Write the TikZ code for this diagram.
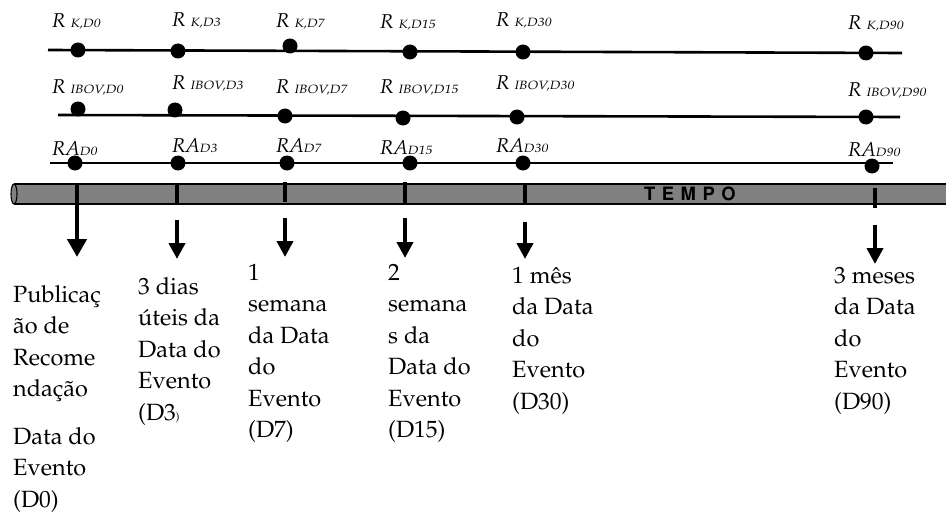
\documentclass[tikz,border=0pt]{standalone}
\usepackage[T1]{fontenc}
\usepackage{mathpazo}
\usepackage[scaled=0.92]{helvet}
\usepackage{graphicx}
\usetikzlibrary{arrows.meta}

% small, slightly widened italic tag set on the baseline after R / RA
\newcommand\lblsub[1]{\scalebox{1.15}[1]{\fontsize{12}{12}\selectfont\itshape #1}}

\begin{document}
\begin{tikzpicture}[x=1pt,y=-1pt,
  lbl/.style={anchor=base west, inner sep=0pt, font=\fontsize{20}{20}\selectfont\itshape},
  dot/.style={circle, fill=black, inner sep=0pt, minimum size=15pt},
  rail/.style={line width=2.6pt, black},
  tick/.style={line width=4pt, black},
  down/.style={line width=4.5pt, -{Triangle[width=16pt,length=16pt]}},
  bigdown/.style={line width=4.5pt, -{Triangle[width=19pt,length=18pt]}},
  desc/.style={anchor=north west, inner sep=0pt, align=left,
    font=\fontsize{23.5}{31.5}\selectfont},
  bargray/.style={fill=black!50}]
\useasboundingbox (0,0) rectangle (946,519);

% ---------- row 1: R K ----------
\coordinate (kA) at (48,50);
\coordinate (kB) at (902,53);
\draw[rail] (kA) -- (kB);
\node[dot] (dk0) at (78,50) {};
\node[dot] (dk3) at (178,51) {};
\node[dot] (dk7) at (290,46) {};
\node[dot] (dk15) at (410,52) {};
\node[dot] (dk30) at (523,52) {};
\node[dot] (dk90) at (866,53) {};
\node[lbl] (k0) at (52,28) {R\hspace{5pt}\lblsub{K,D0}};
\node[lbl] (k3) at (172,27) {R\hspace{5pt}\lblsub{K,D3}};
\node[lbl] (k7) at (276,28) {R\hspace{5pt}\lblsub{K,D7}};
\node[lbl] (k15) at (380,29) {R\hspace{5pt}\lblsub{K,D15}};
\node[lbl] (k30) at (496,27) {R\hspace{5pt}\lblsub{K,D30}};
\node[lbl] (k90) at (848,30) {R\hspace{5pt}\lblsub{K,D90}};

% ---------- row 2: R IBOV ----------
\coordinate (iA) at (58,115);
\coordinate (iB) at (900,117);
\draw[rail] (iA) -- (iB);
\node[dot] (di0) at (78,109) {};
\node[dot] (di3) at (175,110) {};
\node[dot] (di7) at (285,116) {};
\node[dot] (di15) at (403,118) {};
\node[dot] (di30) at (517,117) {};
\node[dot] (di90) at (866,117) {};
\node[lbl] (i0) at (52,93) {R\hspace{5pt}\lblsub{IBOV,D0}};
\node[lbl] (i3) at (172,90) {R\hspace{5pt}\lblsub{IBOV,D3}};
\node[lbl] (i7) at (276,93) {R\hspace{5pt}\lblsub{IBOV,D7}};
\node[lbl] (i15) at (380,93) {R\hspace{5pt}\lblsub{IBOV,D15}};
\node[lbl] (i30) at (496,90) {R\hspace{5pt}\lblsub{IBOV,D30}};
\node[lbl] (i90) at (848,97) {R\hspace{5pt}\lblsub{IBOV,D90}};

% ---------- row 3: RA ----------
\coordinate (aA) at (50,163);
\coordinate (aB) at (893,163);
\draw[rail] (aA) -- (aB);
\node[dot] (da0) at (75,163) {};
\node[dot] (da3) at (178,163) {};
\node[dot] (da7) at (287,163) {};
\node[dot] (da15) at (410,163) {};
\node[dot] (da30) at (523,163) {};
\node[dot] (da90) at (872,166) {};
\node[lbl] (a0) at (52,155) {RA\lblsub{D0}};
\node[lbl] (a3) at (172,152) {RA\lblsub{D3}};
\node[lbl] (a7) at (276,152) {RA\lblsub{D7}};
\node[lbl] (a15) at (380,154) {RA\lblsub{D15}};
\node[lbl] (a30) at (496,152) {RA\lblsub{D30}};
\node[lbl] (a90) at (848,157) {RA\lblsub{D90}};

% ---------- time bar ----------
\fill[bargray] (14,184) rectangle (946,204);
\draw[line width=1.3pt] (14,184) -- (946,184);
\draw[line width=1.3pt] (14,204) -- (946,204);
\filldraw[bargray, draw=black, line width=1.1pt] (14,194) ellipse [x radius=3, y radius=10];
\node[inner sep=0pt, anchor=base west, font=\sffamily\bfseries\fontsize{20}{20}\selectfont] (tempo) at (644,200.5)
  {T\hspace{6.5pt}E\hspace{6.5pt}M\hspace{6.5pt}P\hspace{6.5pt}O};

% ticks on the bar
\draw[tick] (177,184) -- (177,203);
\draw[tick] (285,182) -- (285,202);
\draw[tick] (405,182) -- (405,203);
\draw[tick] (525,184) -- (525,205);
\draw[tick] (875,188) -- (875,208);

% arrows down to the descriptions
\coordinate (s0) at (77,184);  \coordinate (e0) at (77,257);
\coordinate (s3) at (177,220); \coordinate (e3) at (177,259);
\coordinate (s7) at (285,218); \coordinate (e7) at (285,257);
\coordinate (s15) at (405,218); \coordinate (e15) at (405,258);
\coordinate (s30) at (525,222); \coordinate (e30) at (525,259);
\coordinate (s90) at (875,225); \coordinate (e90) at (875,264);
\draw[bigdown] (s0) -- (e0);
\draw[down] (s3) -- (e3);
\draw[down] (s7) -- (e7);
\draw[down] (s15) -- (e15);
\draw[down] (s30) -- (e30);
\draw[down] (s90) -- (e90);

% ---------- descriptions ----------
\node[desc] (t0) at (13,280) {\strut Publica\c{c}\\ \~ao de\\ Recome\\ nda\c{c}\~ao\\[16pt] Data do\\ Evento\\ (D0)};
\node[desc] (t3) at (138,272) {\strut 3 dias\\ \'uteis da\\ Data do\\ Evento\\ (D3{\fontsize{11}{11}\selectfont)}};
\node[desc] (t7) at (248,258) {\strut 1\\ semana\\ da Data\\ do\\ Evento\\ (D7)};
\node[desc] (t15) at (388,258) {\strut 2\\ semana\\ s da\\ Data do\\ Evento\\ (D15)};
\node[desc] (t30) at (512,261) {\strut 1 m\^es\\ da Data\\ do\\ Evento\\ (D30)};
\node[desc] (t90) at (834,261) {\strut 3 meses\\ da Data\\ do\\ Evento\\ (D90)};
\end{tikzpicture}
\end{document}
